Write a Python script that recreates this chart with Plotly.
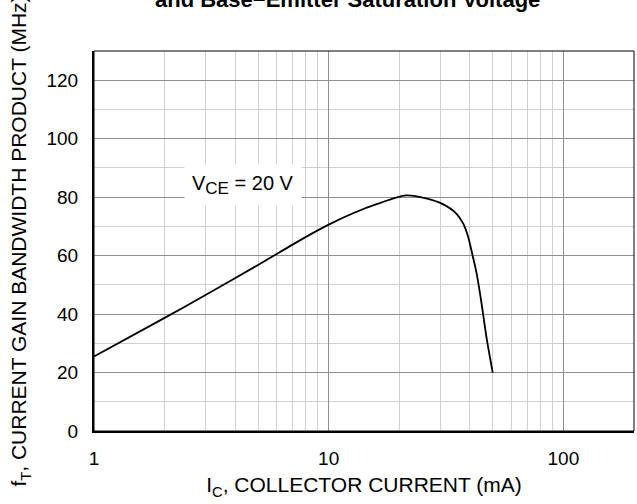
import plotly.graph_objects as go

# Data
ic_ma = [1, 2, 3, 5, 7.8, 10, 12.7, 16, 21.4, 26, 30.5, 35, 37.4, 39.3, 41, 42.7, 44.8, 47, 50]
ft_mhz = [25.5, 38.7, 46.6, 56.8, 65.9, 70.6, 74.5, 77.6, 80.6, 79.6, 77.7, 74.4, 71.0, 66.4, 60.2, 53.9, 43.7, 32.2, 20]

x_tickvals = [1, 10, 100]
x_ticktext = ["1", "10", "100"]
y_tickvals = [0, 20, 40, 60, 80, 100, 120]

FONT = "Arial, Liberation Sans, sans-serif"

fig = go.Figure()
fig.add_trace(go.Scatter(
    x=ic_ma, y=ft_mhz, mode="lines",
    line=dict(color="black", width=1.8, shape="spline", smoothing=0.8),
    showlegend=False, hoverinfo="skip",
))

fig.update_layout(
    width=637, height=504,
    margin=dict(l=94, r=3, t=51, b=73),
    paper_bgcolor="white", plot_bgcolor="white",
    font=dict(family=FONT, size=19, color="black"),
    showlegend=False,
)

fig.update_xaxes(
    type="log", range=[0, 2.30103], automargin=False,
    tickvals=x_tickvals, ticktext=x_ticktext,
    showgrid=True, gridcolor="#8f8f8f", gridwidth=1,
    minor=dict(dtick="D1", showgrid=True, gridcolor="#cfcfcf", gridwidth=1, ticks=""),
    showline=True, linecolor="black", linewidth=2,
    ticks="", ticklabelstandoff=9,
    tickfont=dict(size=19),
    title=dict(text="I<sub>C</sub>, COLLECTOR CURRENT (mA)", font=dict(size=21), standoff=10),
    zeroline=False,
)
fig.update_yaxes(
    range=[0, 130], automargin=False,
    tickvals=y_tickvals,
    showgrid=True, gridcolor="#8f8f8f", gridwidth=1,
    minor=dict(dtick=10, showgrid=True, gridcolor="#cfcfcf", gridwidth=1, ticks=""),
    showline=True, linecolor="black", linewidth=2,
    ticks="", ticklabelstandoff=10,
    tickfont=dict(size=19),
    title=dict(text="f<sub>T</sub>, CURRENT GAIN BANDWIDTH PRODUCT (MHz)", font=dict(size=21), standoff=14),
    zeroline=False,
)

# top/right thin frame
fig.add_shape(type="rect", xref="paper", yref="paper", x0=0, y0=0, x1=1, y1=1,
              line=dict(color="black", width=1), fillcolor="rgba(0,0,0,0)", layer="above")

# V_CE label with white box
fig.add_annotation(
    x=0.167, y=84, xref="paper", yref="y",
    text="V<sub><span style='font-size:17px'>CE</span></sub> = 20 V", showarrow=False,
    font=dict(size=20, color="black"),
    bgcolor="white", borderpad=7,
)

# Partially clipped title at top
fig.add_annotation(
    x=0.47, y=1.097, xref="paper", yref="paper", yanchor="bottom",
    text="<b>and Base\u2212Emitter Saturation Voltage</b>", showarrow=False,
    font=dict(size=22, color="black"),
)

fig.write_html("out.html", config={"displayModeBar": False},
               post_script="document.body.style.margin='0px';")
